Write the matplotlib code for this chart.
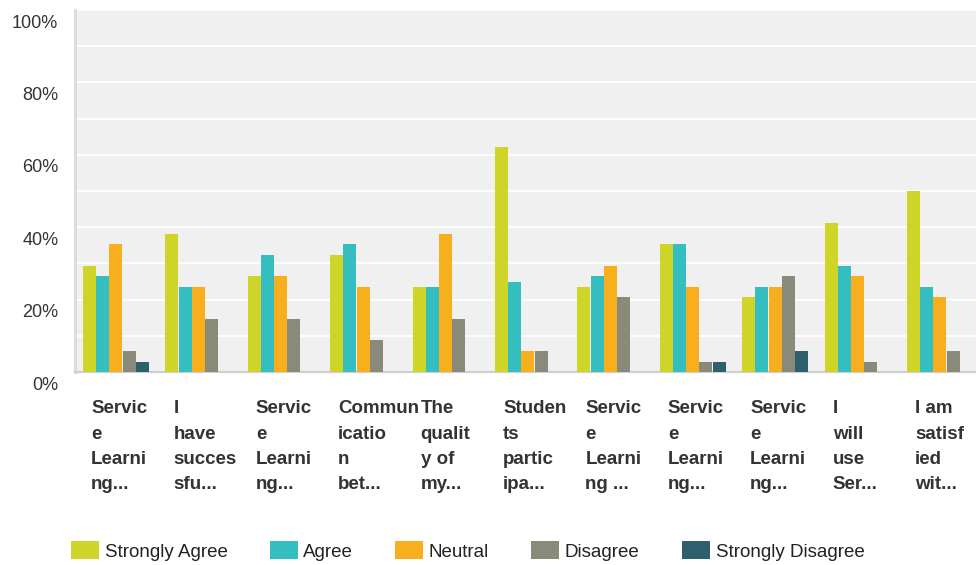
import numpy as np
import matplotlib
matplotlib.use("Agg")
import matplotlib.pyplot as plt
import matplotlib.transforms as mtransforms

plt.rcParams['font.family'] = ['Liberation Sans', 'DejaVu Sans']

# survey answers, percent of respondents per question
questions = ["Servic\ne\nLearni\nng...", "I\nhave\nsucces\nsfu...", "Servic\ne\nLearni\nng...",
             "Commun\nicatio\nn\nbet...", "The\nqualit\ny of\nmy...", "Studen\nts\npartic\nipa...",
             "Servic\ne\nLearni\nng ...", "Servic\ne\nLearni\nng...", "Servic\ne\nLearni\nng...",
             "I\nwill\nuse\nSer...", "I am\nsatisf\nied\nwit..."]
answers = ["Strongly Agree", "Agree", "Neutral", "Disagree", "Strongly Disagree"]
strongly_agree = [29.4, 38.2, 26.5, 32.4, 23.5, 62.1, 23.5, 35.3, 20.6, 41.2, 50.0]
agree = [26.5, 23.5, 32.4, 35.3, 23.5, 24.8, 26.5, 35.3, 23.5, 29.4, 23.5]
neutral = [35.3, 23.5, 26.5, 23.5, 38.2, 5.9, 29.4, 23.5, 23.5, 26.5, 20.6]
disagree = [5.9, 14.7, 14.7, 8.8, 14.7, 5.9, 20.6, 2.9, 26.5, 2.9, 5.9]
strongly_disagree = [2.9, 0, 0, 0, 0, 0, 0, 2.9, 5.9, 0, 0]
colors = ["#CFD428", "#34BEC0", "#F7AF1E", "#8A8A7A", "#2D5F6C"]

series = [strongly_agree, agree, neutral, disagree, strongly_disagree]

fig = plt.figure(figsize=(9.76, 5.65), dpi=100)
ax = fig.add_axes([75 / 976, 1 - 372 / 565, 901 / 976, 362 / 565])
ax.set_facecolor("#F0F0F0")

ind = np.arange(len(questions))
slot = 82.4  # px per group
width = 13.0 / slot
step = 13.2 / slot
first = 8.0 / slot
handles = []
for j, vals in enumerate(series):
    b = ax.bar(ind + first + j * step, vals, width, align='edge', color=colors[j],
               label=answers[j], zorder=3)
    handles.append(b)

ax.set_xlim(0, 901 / slot)
ax.set_ylim(0, 100)

ax.set_yticks(np.arange(0, 101, 20))
ax.set_yticklabels(["%d%%" % v for v in range(0, 101, 20)], fontsize=13, color="#333333")
ax.set_yticks(np.arange(0, 101, 10), minor=True)
ax.grid(True, which='both', axis='y', color='white', linewidth=1.3, zorder=1)
ax.tick_params(axis='y', which='both', length=0, pad=12)
offset = mtransforms.ScaledTranslation(0, -11 / 100, fig.dpi_scale_trans)
for lab in ax.get_yticklabels():
    lab.set_transform(lab.get_transform() + offset)

ax.set_xticks(ind + 16.0 / slot)
ax.set_xticklabels(questions, fontsize=13.5, fontweight='bold', color="#333333",
                   ha='left', va='top', linespacing=1.63)
ax.tick_params(axis='x', length=0, pad=20.5)

for s in ['top', 'right']:
    ax.spines[s].set_visible(False)
ax.spines['left'].set_color("#DCDCDC")
ax.spines['left'].set_linewidth(2.2)
ax.spines['bottom'].set_color("#D0D0D0")
ax.spines['bottom'].set_linewidth(1.6)

leg = fig.legend(handles=handles, loc='center left', bbox_to_anchor=(71 / 976, 1 - 551 / 565),
                 ncol=5, frameon=False, fontsize=13.5, handlelength=1.5, handleheight=1.1,
                 handletextpad=0.3, columnspacing=2.24, borderaxespad=0, borderpad=0)
for t in leg.get_texts():
    t.set_color("#222222")

fig.savefig("out.png", dpi=100)
